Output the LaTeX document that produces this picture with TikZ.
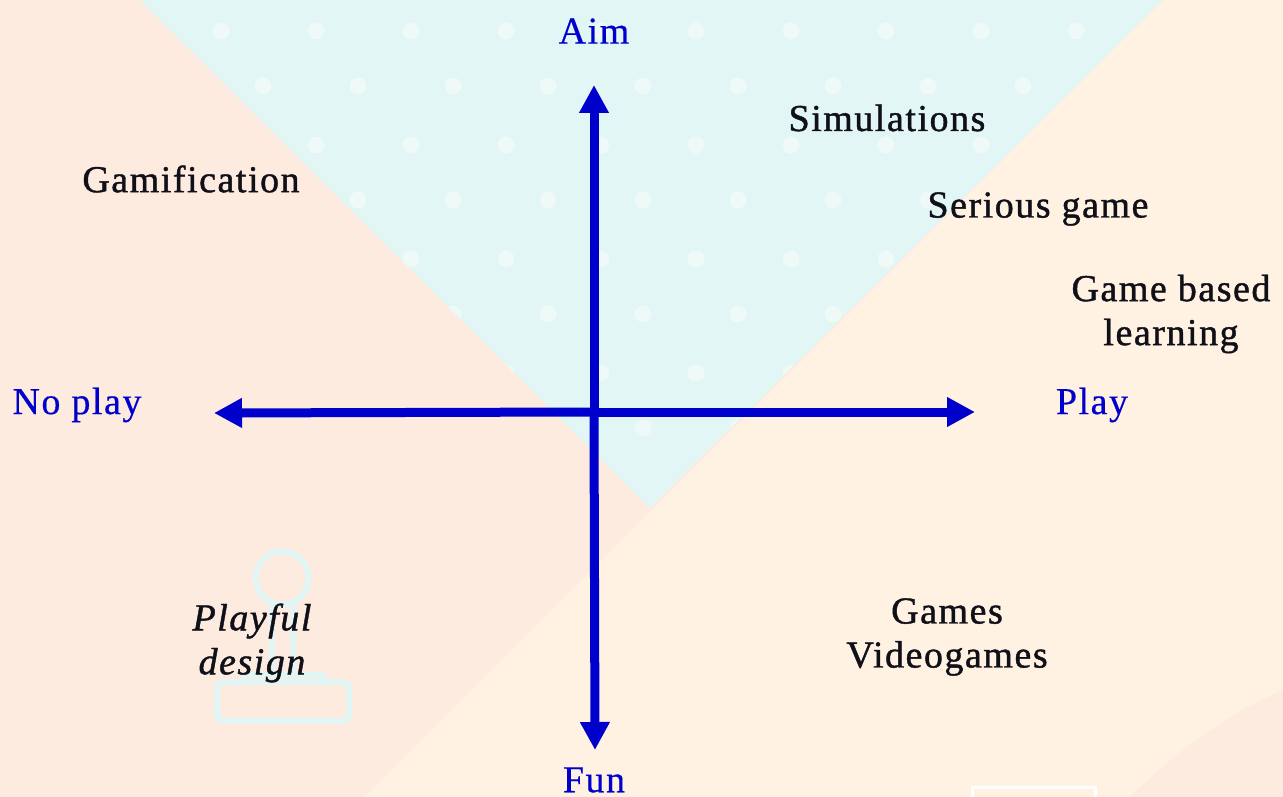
\documentclass[tikz,border=0pt]{standalone}
\usepackage{fontspec}
\setmainfont{Liberation Serif}[LetterSpace=4,FakeBold=0.4]
\newfontfamily\txtfont{Liberation Serif}[LetterSpace=4,FakeBold=1.1]
\usetikzlibrary{arrows.meta}
\definecolor{pinkbg}{HTML}{FDEBE0}
\definecolor{tealbg}{HTML}{E1F6F5}
\definecolor{creambg}{HTML}{FFF2E3}
\definecolor{dotc}{HTML}{EEF9F8}
\definecolor{axisblue}{HTML}{0000CC}
\definecolor{txtblack}{HTML}{101018}
\tikzset{
  axisarrow/.style={draw=axisblue,line width=9pt,-{Triangle[length=28pt,width=28pt]},shorten >=-1pt},
  axislabel/.style={text=axisblue,font=\fontsize{38}{44}\selectfont,inner sep=0pt},
  itemlabel/.style={text=txtblack,font=\txtfont\fontsize{38}{44}\selectfont,inner sep=0pt,align=center},
  iconline/.style={draw=tealbg,line width=6pt},
}
\begin{document}
\begin{tikzpicture}[x=1pt,y=-1pt]
\useasboundingbox (0,0) rectangle (1283,797);
\fill[pinkbg] (0,0) rectangle (1283,797);
\fill[creambg] (365,797) -- (1163,0) -- (1283,0) -- (1283,797) -- cycle;
\fill[pinkbg] (1130,797) .. controls (1175,752) and (1225,715) .. (1283,690) -- (1283,797) -- cycle;
\fill[tealbg] (140,0) -- (1163,0) -- (650,508) -- cycle;
\begin{scope}
\clip (140,0) -- (1163,0) -- (650,508) -- cycle;
\foreach \yy in {31,145,259,373}
  \foreach \xx in {221,316,...,1076}
    \fill[dotc] (\xx,\yy) circle (8.5);
\foreach \yy in {86,200,314,428}
  \foreach \xx in {263,358,...,1023}
    \fill[dotc] (\xx,\yy) circle (8.5);
\end{scope}
% joystick icon
\draw[iconline] (282,578) circle (26.5);
\draw[iconline] (272,604) -- (272,673);
\draw[iconline] (293,604) -- (293,673);
\draw[iconline] (245,681) -- (245,675) -- (323,675) -- (323,681);
\draw[iconline,rounded corners=7pt] (217,682) rectangle (349,721);
% white box, cut by the bottom edge
\draw[white,line width=3pt] (972,800) -- (972,787) -- (1095,787) -- (1095,800);
% axes
\coordinate (centre) at (594,412);
\coordinate (top) at (594,86);
\coordinate (bottom) at (595,749);
\coordinate (left) at (215,413);
\coordinate (right) at (974,412);
\draw[axisarrow] (centre) -- (top);
\draw[axisarrow] (centre) -- (bottom);
\draw[axisarrow] (centre) -- (left);
\draw[axisarrow] (centre) -- (right);
% labels
\node[axislabel] (aim) at (594,31) {Aim};
\node[axislabel] (fun) at (594,780) {Fun};
\node[axislabel] (noplay) at (77,405) {No play};
\node[axislabel] (play) at (1092,405) {Play};
\node[itemlabel] (simulations) at (887,118) {Simulations};
\node[itemlabel] (gamification) at (191,179) {Gamification};
\node[itemlabel] (serious) at (1038,209) {Serious game};
\node[itemlabel] (gbl) at (1171,314) {Game based\\learning};
\node[itemlabel] (games) at (947,637) {Games\\Videogames};
\node[itemlabel,font=\txtfont\itshape\fontsize{38}{44}\selectfont] (playful) at (252,643) {Playful\\design};
\end{tikzpicture}
\end{document}
